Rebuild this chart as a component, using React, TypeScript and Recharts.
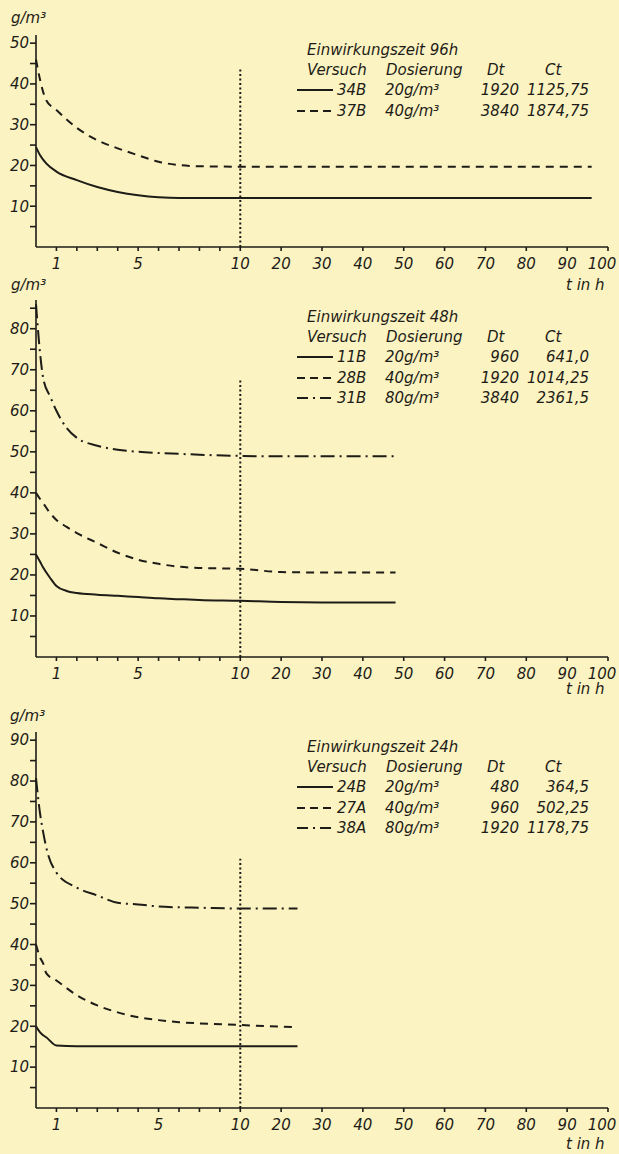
import { Line, LineChart, ReferenceLine, XAxis, YAxis } from "recharts";

// time axis is broken at 10 h: 0-10 h drawn 5x wider than 10-100 h
const toPos = (h: number) => (h <= 10 ? h : 10 + (h - 10) / 5);

// Einwirkungszeit 96 h
const hours96 = [0, 0.2, 0.5, 1, 2, 3, 4, 5, 6, 7, 8, 10, 20, 40, 60, 80, 96];
const v34B = [24.5, 22.5, 20.5, 18.5, 16.4, 14.7, 13.5, 12.7, 12.2, 12, 12, 12, 12, 12, 12, 12, 12];
const v37B = [46, 41, 36, 33.6, 29.2, 26.2, 24.2, 22.5, 20.9, 20.1, 19.8, 19.7, 19.7, 19.7, 19.7, 19.7, 19.7];

// Einwirkungszeit 48 h
const hours48 = [0, 0.2, 0.35, 0.7, 1, 1.5, 2, 3, 4, 5, 6, 7, 8, 10, 20, 30, 48];
const v11B = [25, 23.2, 21.8, 19.2, 17.3, 16.1, 15.6, 15.2, 14.9, 14.6, 14.3, 14.1, 13.9, 13.7, 13.4, 13.3, 13.3];
const v28B = [40, 38.5, 37.5, 35, 33.4, 31.7, 30.2, 27.8, 25.4, 23.7, 22.7, 22, 21.7, 21.5, 20.7, 20.6, 20.6];
const v31B = [86, 74, 68, 63.4, 60, 55.8, 53.4, 51.5, 50.5, 50, 49.7, 49.5, 49.3, 49, 48.9, 48.9, 48.9];

// Einwirkungszeit 24 h
const hours24 = [0, 0.2, 0.35, 0.5, 1, 2, 3, 4, 5, 6, 7, 8, 10, 20, 24];
const v24B = [20, 18.5, 17.8, 17.3, 15.3, 15.1, 15.1, 15.1, 15.1, 15.1, 15.1, 15.1, 15.1, 15.1, 15.1];
const v27A = [40, 36.8, 35.4, 33, 31.2, 27.6, 25.1, 23.4, 22.2, 21.5, 21, 20.7, 20.3, 19.9, 19.8];
const v38A = [80.7, 72, 67.5, 63.8, 57.6, 53.9, 52, 50.2, 49.8, 49.3, 49.1, 49, 48.8, 48.8, 48.8];

const xTicks = [1, 2, 3, 4, 5, 6, 7, 8, 9, 10, 12, 14, 16, 18, 20, 22, 24, 26, 28];
const xLabelsAB: Record<number, string> = {
  1: "1", 5: "5", 10: "10", 12: "20", 14: "30", 16: "40", 18: "50",
  20: "60", 22: "70", 24: "80", 26: "90", 28: "100"
};
const xLabelsC: Record<number, string> = { ...xLabelsAB, 5: "", 6: "5" };

const yTicks50 = [5, 10, 15, 20, 25, 30, 35, 40, 45, 50];
const yTicks85 = [5, 10, 15, 20, 25, 30, 35, 40, 45, 50, 55, 60, 65, 70, 75, 80, 85];
const yTicks90 = [...yTicks85, 90];

const ink = "#1e1c18";
const bg = "#fbf3c1";
const font = "'DejaVu Sans', sans-serif";
const fs = 15;

const styles: Record<string, string | undefined> = {
  solid: undefined,
  dashed: "8 6",
  dashdot: "14 5 2 5"
};

type Series = { key: string; values: number[]; style: string };
type LegendRow = { style: string; code: string; dose: string; dt: string; ct: string };

function buildRows(hours: number[], series: Series[]) {
  return hours.map((h, i) => {
    const row: Record<string, number> = { pos: toPos(h) };
    series.forEach((s) => {
      row[s.key] = s.values[i];
    });
    return row;
  });
}

function makeXTick(labels: Record<number, string>) {
  return (p: any) => {
    const label = labels[p.payload.value] ?? "";
    if (!label) return <g />;
    // keep "100" inside the page
    const dx = label === "100" ? -6 : 0;
    return (
      <text
        x={p.x + dx}
        y={p.y}
        dy="0.71em"
        textAnchor="middle"
        fill={ink}
        fontSize={fs}
        fontStyle="italic"
        fontFamily={font}
      >
        {label}
      </text>
    );
  };
}

function Panel(props: {
  top: number;
  height: number;
  mTop: number;
  mBottom: number;
  yMax: number;
  yTicks: number[];
  xLabels: Record<number, string>;
  hours: number[];
  series: Series[];
  refTop: number;
}) {
  const data = buildRows(props.hours, props.series);
  return (
    <div style={{ position: "absolute", left: 0, top: props.top }}>
      <LineChart
        width={619}
        height={props.height}
        data={data}
        margin={{ top: props.mTop, right: 11, left: 0, bottom: props.mBottom }}
      >
        <XAxis
          type="number"
          dataKey="pos"
          domain={[0, 28]}
          ticks={xTicks}
          interval={0}
          height={30}
          tickSize={4}
          tickMargin={7}
          stroke={ink}
          strokeWidth={1.6}
          tick={makeXTick(props.xLabels)}
        />
        <YAxis
          type="number"
          domain={[0, props.yMax]}
          ticks={props.yTicks}
          interval={0}
          width={36}
          tickSize={6}
          tickMargin={1}
          stroke={ink}
          strokeWidth={1.6}
          tickFormatter={(v: number) => (v % 10 === 0 ? String(v) : "")}
          tick={{ fill: ink, fontSize: fs, fontStyle: "italic", fontFamily: font }}
        />
        <ReferenceLine
          segment={[
            { x: 10, y: 0 },
            { x: 10, y: props.refTop }
          ]}
          stroke={ink}
          strokeWidth={2}
          strokeDasharray="2 2.5"
        />
        {props.series.map((s) => (
          <Line
            key={s.key}
            type="monotone"
            dataKey={s.key}
            stroke={ink}
            strokeWidth={2}
            strokeDasharray={styles[s.style]}
            dot={false}
            isAnimationActive={false}
          />
        ))}
      </LineChart>
    </div>
  );
}

function Text(props: { x: number; y: number; children: string; w?: number; right?: boolean }) {
  return (
    <div
      style={{
        position: "absolute",
        left: props.right ? props.x - (props.w ?? 70) : props.x,
        top: props.y - 8,
        width: props.right ? props.w ?? 70 : undefined,
        textAlign: props.right ? "right" : "left",
        lineHeight: "16px",
        fontSize: fs,
        fontStyle: "italic",
        fontFamily: font,
        color: ink,
        whiteSpace: "nowrap"
      }}
    >
      {props.children}
    </div>
  );
}

function Legend(props: { title: string; y: number; rows: LegendRow[] }) {
  const { y } = props;
  return (
    <>
      <Text x={307} y={y}>{props.title}</Text>
      <Text x={307} y={y + 20}>Versuch</Text>
      <Text x={386} y={y + 20}>Dosierung</Text>
      <Text x={487} y={y + 20}>Dt</Text>
      <Text x={545} y={y + 20}>Ct</Text>
      {props.rows.map((r, i) => {
        const ry = y + 40 + i * 20.5;
        return (
          <div key={r.code}>
            <svg
              style={{ position: "absolute", left: 297, top: ry - 3 }}
              width={38}
              height={6}
            >
              <line
                x1={0}
                y1={3}
                x2={36}
                y2={3}
                stroke={ink}
                strokeWidth={2}
                strokeDasharray={r.style === "dashed" ? "8 5" : r.style === "dashdot" ? "11 5 2 5" : undefined}
              />
            </svg>
            <Text x={337} y={ry}>{r.code}</Text>
            <Text x={385} y={ry}>{r.dose}</Text>
            <Text x={519} y={ry} right>{r.dt}</Text>
            <Text x={589} y={ry} right>{r.ct}</Text>
          </div>
        );
      })}
    </>
  );
}

export default function App() {
  return (
    <div
      style={{
        position: "absolute",
        left: 0,
        top: 0,
        width: 619,
        height: 1154,
        background: bg,
        overflow: "hidden"
      }}
    >
      <Panel
        top={0}
        height={300}
        mTop={35}
        mBottom={23}
        yMax={52}
        yTicks={yTicks50}
        xLabels={xLabelsAB}
        hours={hours96}
        refTop={44}
        series={[
          { key: "34B", values: v34B, style: "solid" },
          { key: "37B", values: v37B, style: "dashed" }
        ]}
      />
      <Panel
        top={290}
        height={410}
        mTop={10}
        mBottom={13}
        yMax={87}
        yTicks={yTicks85}
        xLabels={xLabelsAB}
        hours={hours48}
        refTop={68}
        series={[
          { key: "11B", values: v11B, style: "solid" },
          { key: "28B", values: v28B, style: "dashed" },
          { key: "31B", values: v31B, style: "dashdot" }
        ]}
      />
      <Panel
        top={720}
        height={434}
        mTop={12}
        mBottom={16}
        yMax={92}
        yTicks={yTicks90}
        xLabels={xLabelsC}
        hours={hours24}
        refTop={61}
        series={[
          { key: "24B", values: v24B, style: "solid" },
          { key: "27A", values: v27A, style: "dashed" },
          { key: "38A", values: v38A, style: "dashdot" }
        ]}
      />

      <Text x={11} y={18}>g/m³</Text>
      <Text x={11} y={285}>g/m³</Text>
      <Text x={10} y={716}>g/m³</Text>
      <Text x={566} y={285}>t in h</Text>
      <Text x={566} y={689}>t in h</Text>
      <Text x={566} y={1144}>t in h</Text>

      <Legend
        title="Einwirkungszeit 96h"
        y={50}
        rows={[
          { style: "solid", code: "34B", dose: "20g/m³", dt: "1920", ct: "1125,75" },
          { style: "dashed", code: "37B", dose: "40g/m³", dt: "3840", ct: "1874,75" }
        ]}
      />
      <Legend
        title="Einwirkungszeit 48h"
        y={317}
        rows={[
          { style: "solid", code: "11B", dose: "20g/m³", dt: "960", ct: "641,0" },
          { style: "dashed", code: "28B", dose: "40g/m³", dt: "1920", ct: "1014,25" },
          { style: "dashdot", code: "31B", dose: "80g/m³", dt: "3840", ct: "2361,5" }
        ]}
      />
      <Legend
        title="Einwirkungszeit 24h"
        y={747}
        rows={[
          { style: "solid", code: "24B", dose: "20g/m³", dt: "480", ct: "364,5" },
          { style: "dashed", code: "27A", dose: "40g/m³", dt: "960", ct: "502,25" },
          { style: "dashdot", code: "38A", dose: "80g/m³", dt: "1920", ct: "1178,75" }
        ]}
      />
    </div>
  );
}
